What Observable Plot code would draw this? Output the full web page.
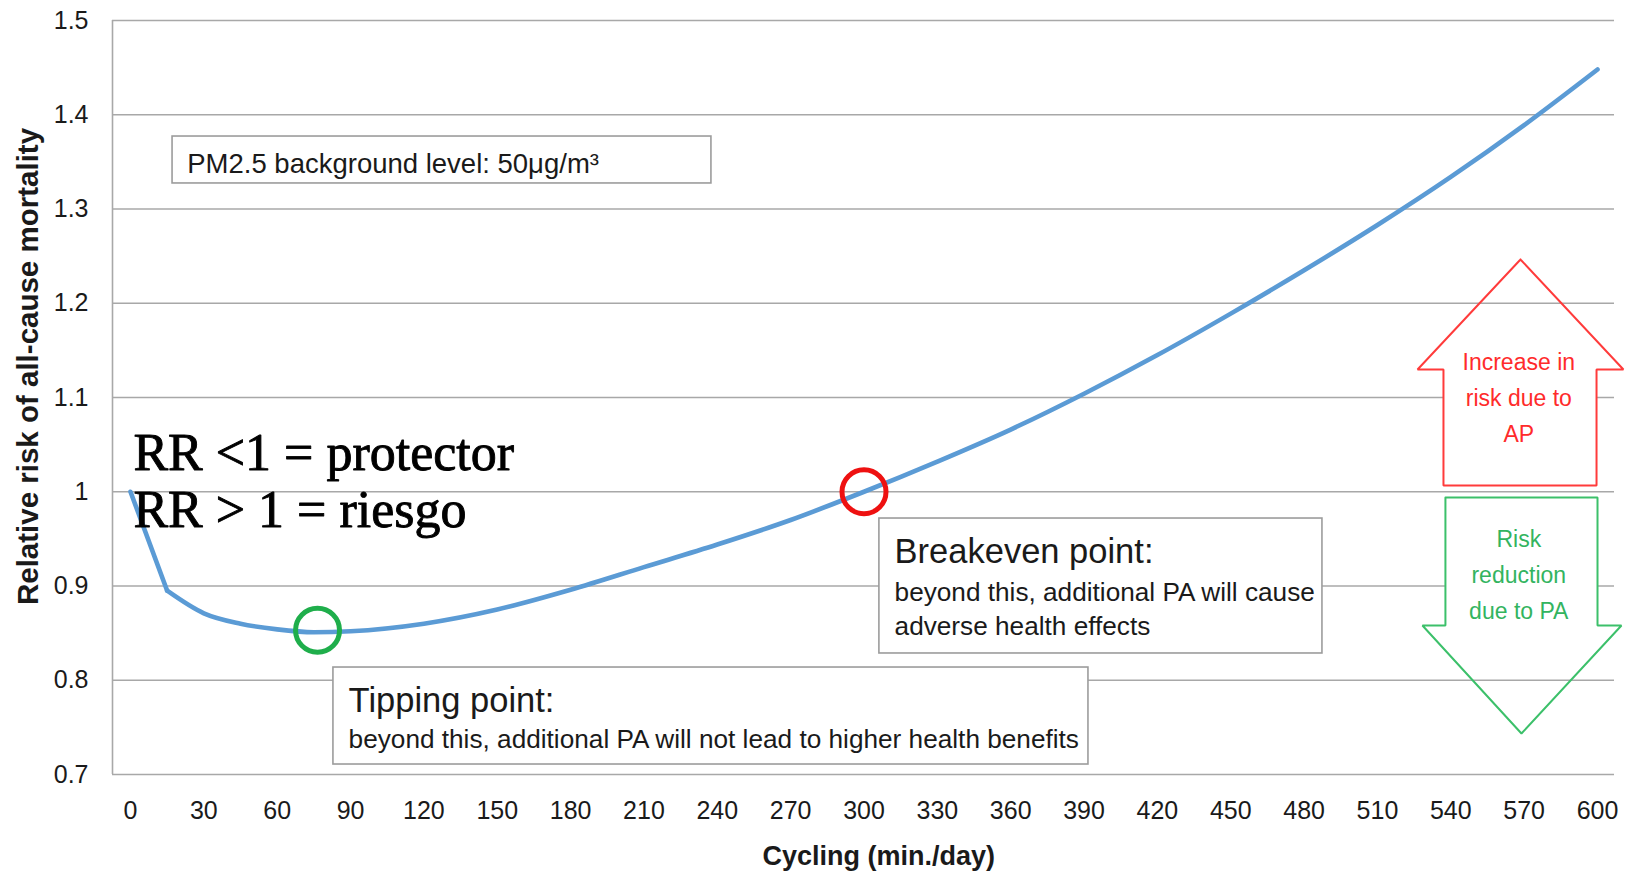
<!DOCTYPE html>
<html>
<head>
<meta charset="utf-8">
<script src="https://cdn.jsdelivr.net/npm/d3@7"></script>
<script src="https://cdn.jsdelivr.net/npm/@observablehq/plot@0.6"></script>
<style>
  body { margin: 0; background: #fff; }
  #chart svg { display: block; }
</style>
</head>
<body>
<div id="chart"></div>
<script>
// ---- Data ----
const minutes = [0, 15, 30, 45, 60, 75, 90, 120, 150, 180, 210, 240, 270, 300, 330, 360, 390, 420, 450, 480, 510, 540, 570, 600];
const relativeRisk = [1.0, 0.895, 0.871, 0.860, 0.854, 0.851, 0.852, 0.860, 0.875, 0.896, 0.920, 0.944, 0.970, 1.000, 1.032, 1.066, 1.104, 1.145, 1.189, 1.235, 1.283, 1.334, 1.389, 1.448];

const xTicks = [0, 30, 60, 90, 120, 150, 180, 210, 240, 270, 300, 330, 360, 390, 420, 450, 480, 510, 540, 570, 600];
const xTickLabels = ["0", "30", "60", "90", "120", "150", "180", "210", "240", "270", "300", "330", "360", "390", "420", "450", "480", "510", "540", "570", "600"];
const yTicks = [0.7, 0.8, 0.9, 1.0, 1.1, 1.2, 1.3, 1.4, 1.5];
const yTickLabels = ["0.7", "0.8", "0.9", "1", "1.1", "1.2", "1.3", "1.4", "1.5"];

const xLabel = "Cycling (min./day)";
const yLabel = "Relative risk of all-cause mortality";

// key points
const tippingPoint = [{m: 76.5, rr: 0.853}];
const breakevenPoint = [{m: 300, rr: 1.0}];

// annotation boxes (data units)
const boxes = [
  {x1: 17.2, x2: 237.6, y1: 1.3769, y2: 1.3271},   // PM2.5
  {x1: 306.3, x2: 487.5, y1: 0.9716, y2: 0.8284},  // Breakeven
  {x1: 83.0, x2: 391.8, y1: 0.8135, y2: 0.7106}    // Tipping
];
const boxTitles = [
  {m: 312.5, rr: 0.9249, t: "Breakeven point:"},
  {m: 89.2, rr: 0.7668, t: "Tipping point:"}
];
const pmNote = [{m: 23.2, rr: 1.3387, t: "PM2.5 background level: 50μg/m³"}];
const boxBodies = [
  {m: 312.5, rr: 0.8475, t: "beyond this, additional PA will cause\nadverse health effects"},
  {m: 89.2, rr: 0.7286, t: "beyond this, additional PA will not lead to higher health benefits"}
];
const rrNotes = [{m: 1.2, rr: 0.9621, t: "RR <1 = protector\nRR > 1 = riesgo"}];

// arrows (outline polygons, data units)
const upArrow = [
  {m: 568.5, rr: 1.2464}, {m: 610.6, rr: 1.1297}, {m: 599.6, rr: 1.1297}, {m: 599.6, rr: 1.0066},
  {m: 537.0, rr: 1.0066}, {m: 537.0, rr: 1.1297}, {m: 526.4, rr: 1.1297}, {m: 568.5, rr: 1.2464}
];
const downArrow = [
  {m: 537.8, rr: 0.9939}, {m: 600.0, rr: 0.9939}, {m: 600.0, rr: 0.8581}, {m: 609.8, rr: 0.8581},
  {m: 568.9, rr: 0.7435}, {m: 528.4, rr: 0.8581}, {m: 537.8, rr: 0.8581}, {m: 537.8, rr: 0.9939}
];
const shafts = [
  {x1: 537.0, x2: 599.6, y1: 1.1297, y2: 1.0066},
  {x1: 537.8, x2: 600.0, y1: 0.9939, y2: 0.8581}
];
const upText = [{m: 567.8, rr: 1.0523, t: "Increase in\nrisk due to\nAP"}];
const downText = [{m: 567.8, rr: 0.8645, t: "Risk\nreduction\ndue to PA"}];

const xDomain = [-7.36, 606.95];
const series = minutes.map((m, i) => ({m, rr: relativeRisk[i]}));
const steepPart = series.slice(0, 2);
const smoothPart = series.slice(1);

const sans = "'Liberation Sans', Arial, Helvetica, sans-serif";
const lineStyle = {x: "m", y: "rr", stroke: "#5b9bd5", strokeWidth: 4.6, strokeLinejoin: "round", strokeLinecap: "round"};

const chart = Plot.plot({
  width: 1625,
  height: 872,
  marginLeft: 112,
  marginRight: 11,
  marginTop: 20,
  marginBottom: 98,
  x: {domain: xDomain},
  y: {domain: [0.7, 1.5]},
  style: {fontFamily: sans, fontSize: "25px", color: "#1a1a1a", background: "#fff", overflow: "visible"},
  marks: [
    Plot.ruleY(yTicks, {stroke: "#a8a8a8", strokeWidth: 1.6}),
    Plot.ruleX([xDomain[0]], {stroke: "#a8a8a8", strokeWidth: 1.6}),
    Plot.axisX({ticks: xTicks, tickSize: 0, tickPadding: 27, label: null,
      tickFormat: d => xTickLabels[xTicks.indexOf(d)]}),
    Plot.axisY({ticks: yTicks, tickSize: 0, tickPadding: 24, label: null,
      tickFormat: d => yTickLabels[yTicks.indexOf(d)]}),
    // arrow shafts white, then outlines
    Plot.rect(shafts, {x1: "x1", x2: "x2", y1: "y1", y2: "y2", fill: "white"}),
    Plot.line(upArrow, {x: "m", y: "rr", stroke: "#ff3b3b", strokeWidth: 2, strokeLinejoin: "miter"}),
    Plot.line(downArrow, {x: "m", y: "rr", stroke: "#3cc06a", strokeWidth: 2, strokeLinejoin: "miter"}),
    Plot.text(upText, {x: "m", y: "rr", text: "t", fill: "#ff2b2b", fontSize: 23, lineAnchor: "bottom", lineHeight: 1.57}),
    Plot.text(downText, {x: "m", y: "rr", text: "t", fill: "#33b45f", fontSize: 23, lineAnchor: "bottom", lineHeight: 1.57}),
    // boxes
    Plot.rect(boxes, {x1: "x1", x2: "x2", y1: "y1", y2: "y2", fill: "white", stroke: "#9c9c9c", strokeWidth: 1.6}),
    Plot.text(boxTitles, {x: "m", y: "rr", text: "t", textAnchor: "start", lineAnchor: "bottom", fontSize: 34.5, fill: "#1a1a1a"}),
    Plot.text(boxBodies, {x: "m", y: "rr", text: "t", textAnchor: "start", lineAnchor: "bottom", fontSize: 26.2, lineHeight: 1.33, fill: "#1a1a1a"}),
    Plot.text(pmNote, {x: "m", y: "rr", text: "t", textAnchor: "start", lineAnchor: "bottom", fontSize: 27.5, fill: "#1a1a1a"}),
    // the curve
    Plot.line(steepPart, lineStyle),
    Plot.line(smoothPart, {...lineStyle, curve: "monotone-x"}),
    Plot.dot(tippingPoint, {x: "m", y: "rr", r: 22, stroke: "#1fae4b", strokeWidth: 5, fill: "none"}),
    Plot.dot(breakevenPoint, {x: "m", y: "rr", r: 22, stroke: "#ee1111", strokeWidth: 5, fill: "none"}),
    // serif note
    Plot.text(rrNotes, {x: "m", y: "rr", text: "t", textAnchor: "start", lineAnchor: "bottom", fontSize: 52, lineHeight: 1.1,
      fontFamily: "'Liberation Serif', 'Times New Roman', serif", fill: "#000", stroke: "#000", strokeWidth: 0.9}),
    // axis titles
    Plot.text([xLabel], {x: 306, frameAnchor: "bottom", dy: 90, text: d => d, lineAnchor: "bottom",
      fontWeight: "bold", fontSize: 27, fill: "#1a1a1a"}),
    Plot.text([yLabel], {y: 1.1329, frameAnchor: "left", dx: -84, rotate: -90, text: d => d,
      textAnchor: "middle", lineAnchor: "middle", fontWeight: "bold", fontSize: 29.5, fill: "#1a1a1a"})
  ]
});
document.getElementById("chart").append(chart);
</script>
</body>
</html>
